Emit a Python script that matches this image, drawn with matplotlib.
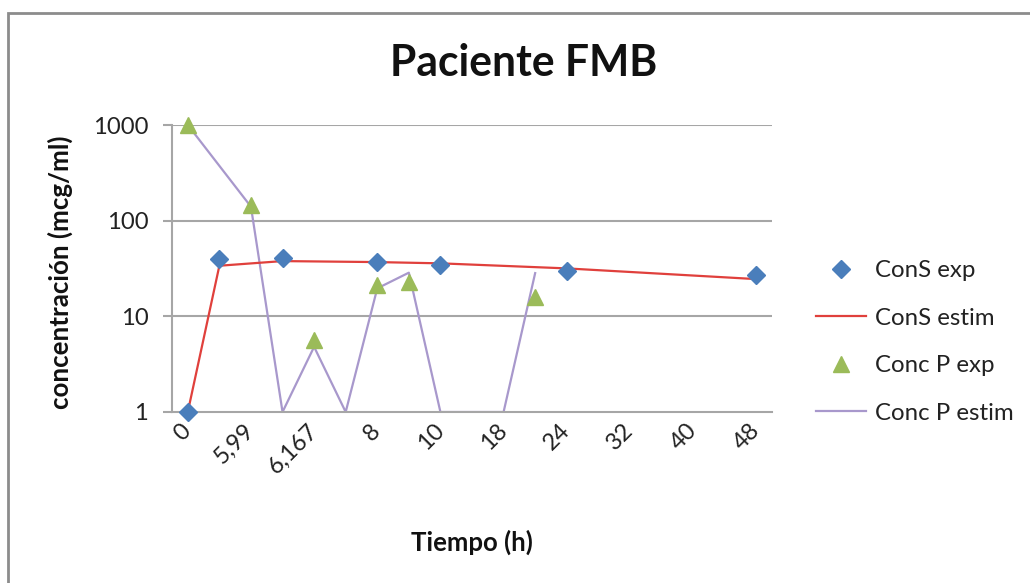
import matplotlib
matplotlib.use("Agg")
import matplotlib.pyplot as plt
import numpy as np
from matplotlib.patches import Rectangle

# Category axis (19 categories, every other one labelled)
n_categories = 19
tick_positions = [0, 2, 4, 6, 8, 10, 12, 14, 16, 18]
tick_labels = ["0", "5,99", "6,167", "8", "10", "18", "24", "32", "40", "48"]

# Series (None = no value)
cons_exp = [1, 40, None, 41, None, None, 36.7, None, 34.4, None, None, None, 29.7,
            None, None, None, None, None, 27]
cons_estim = [1, 33.8, None, 37.8, None, None, 36.9, None, 35.8, None, None, None, 31.7,
              None, None, None, None, None, 24.5]
concp_exp = [1000, None, 146, None, 5.65, None, 21.2, 23, None, None, None, 16, None,
             None, None, None, None, None, None]
concp_estim = [1000, None, 140, 1, 4.8, 1, 19.6, 28.6, 1, 1, 1, 28.3, None,
               None, None, None, None, None, None]

series_names = ["ConS exp", "ConS estim", "Conc P exp", "Conc P estim"]


def xy(vals):
    x = [i for i, v in enumerate(vals) if v is not None]
    y = [v for v in vals if v is not None]
    return x, y


plt.rcParams['font.family'] = ['Lato', 'DejaVu Sans']
fig = plt.figure(figsize=(10.30, 5.83), dpi=100)
fig.patch.set_facecolor('white')
fig.patches.append(Rectangle((8 / 1030, -0.1), 1.2, 1 - 13 / 583 + 0.1,
                             transform=fig.transFigure, fill=False,
                             edgecolor='#8c8c8c', linewidth=2))

ax = fig.add_axes([172 / 1030, 1 - 412 / 583, 600 / 1030, (412 - 125) / 583])
ax.set_yscale('log')
ax.set_ylim(1, 1000)
ax.set_xlim(-0.5, n_categories - 0.5)

grid_c = '#a6a6a6'
for v in [10, 100, 1000]:
    ax.axhline(v, color=grid_c, lw=1.5, zorder=1)

x, y = xy(cons_estim)
ax.plot(x, y, color='#e0403c', lw=1.6, zorder=3, label=series_names[1])
x, y = xy(concp_estim)
ax.plot(x, y, color='#a898cc', lw=1.6, zorder=2, label=series_names[3])
x, y = xy(cons_exp)
ax.plot(x, y, ls='none', marker='D', ms=9.5, color='#4a7ebb', zorder=4,
        label=series_names[0], clip_on=False)
x, y = xy(concp_exp)
ax.plot(x, y, ls='none', marker='^', ms=12, color='#9bbb59', zorder=4,
        label=series_names[2], clip_on=False)

for s in ['top', 'right']:
    ax.spines[s].set_visible(False)
ax.spines['left'].set_color(grid_c)
ax.spines['bottom'].set_color(grid_c)
ax.spines['left'].set_linewidth(1.5)
ax.spines['bottom'].set_linewidth(1.5)

ax.set_yticks([1, 10, 100, 1000])
ax.set_yticklabels(["1", "10", "100", "1000"])
ax.yaxis.set_minor_locator(matplotlib.ticker.NullLocator())
ax.tick_params(axis='y', length=6.5, width=1.5, color=grid_c, labelsize=17.2, pad=10.5,
               labelcolor='#222222')

ax.set_xticks(tick_positions)
ax.set_xticklabels(tick_labels, rotation=45, ha='right', va='center',
                   rotation_mode='anchor', fontsize=17, color='#222222')
ax.tick_params(axis='x', length=0, pad=11)

fig.text(60 / 1030, 1 - 272 / 583, "concentración (mcg/ml)", fontsize=18.6,
         fontweight='bold', rotation=90, ha='center', va='center', color='#111111')
fig.text(472 / 1030, 1 - 542 / 583, "Tiempo (h)", fontsize=18.5, fontweight='bold',
         ha='center', va='center', color='#111111')
fig.text(524 / 1030, 1 - 63 / 583, "Paciente FMB", fontsize=30.7, fontweight='bold',
         ha='center', va='center', color='#111111')

handles, labels = ax.get_legend_handles_labels()
hmap = dict(zip(labels, handles))
leg = fig.legend([hmap[n] for n in series_names], series_names,
                 loc='center left', bbox_to_anchor=(816 / 1030, 1 - 342 / 583),
                 frameon=False, fontsize=17.3, labelspacing=1.1, handlelength=2.1,
                 handletextpad=0.35, borderpad=0, borderaxespad=0)
for t in leg.get_texts():
    t.set_color('#222222')

fig.savefig("out.png", dpi=100, facecolor='white')
